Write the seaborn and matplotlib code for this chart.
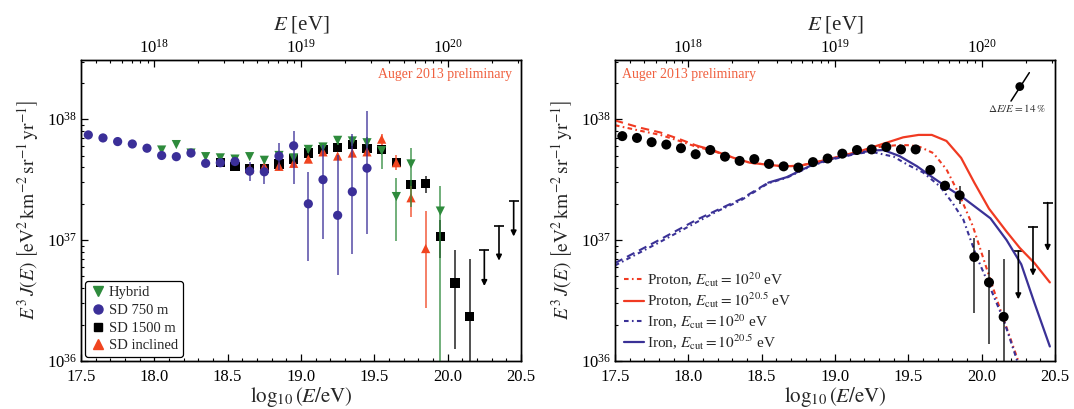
import numpy as np
import matplotlib
matplotlib.use("Agg")
import matplotlib.pyplot as plt
from matplotlib.ticker import MultipleLocator, FormatStrFormatter, LogLocator, NullFormatter
from matplotlib.lines import Line2D
import seaborn as sns

# ---------------- Left panel data: log10(E/eV) and log10(E^3 J) ----------------
hyb_x = [18.05, 18.15, 18.25, 18.35, 18.45, 18.55, 18.65, 18.75, 18.85, 18.95,
         19.05, 19.15, 19.25, 19.35, 19.45, 19.55, 19.65, 19.75, 19.95]
hyb_y = [37.745, 37.79, 37.72, 37.69, 37.68, 37.67, 37.69, 37.66, 37.70, 37.68,
         37.75, 37.77, 37.825, 37.82, 37.805, 37.74, 37.36, 37.63, 37.24]
hyb_lo = [37.735, 37.78, 37.71, 37.68, 37.67, 37.66, 37.675, 37.645, 37.68, 37.66,
          37.72, 37.74, 37.79, 37.78, 37.76, 37.59, 36.99, 37.27, 35.5]
hyb_hi = [37.755, 37.80, 37.73, 37.70, 37.69, 37.68, 37.705, 37.675, 37.72, 37.70,
          37.78, 37.80, 37.86, 37.86, 37.85, 37.76, 37.515, 37.76, 37.45]

sd750_x = [17.55, 17.65, 17.75, 17.85, 17.95, 18.05, 18.15, 18.25, 18.35, 18.45,
           18.55, 18.65, 18.75, 18.85, 18.95, 19.05, 19.15, 19.25, 19.35, 19.45]
sd750_y = [37.87, 37.845, 37.815, 37.795, 37.76, 37.70, 37.69, 37.72, 37.635, 37.64,
           37.65, 37.57, 37.565, 37.695, 37.78, 37.30, 37.50, 37.205, 37.40, 37.595]
sd750_lo = [37.865, 37.84, 37.81, 37.79, 37.755, 37.69, 37.68, 37.71, 37.615, 37.615,
            37.61, 37.49, 37.46, 37.58, 37.46, 36.83, 37.01, 36.71, 36.885, 37.05]
sd750_hi = [37.875, 37.85, 37.82, 37.80, 37.765, 37.71, 37.70, 37.73, 37.655, 37.665,
            37.69, 37.65, 37.62, 37.80, 37.90, 37.56, 37.79, 37.70, 37.875, 38.07]

sd1500_x = [18.45, 18.55, 18.65, 18.75, 18.85, 18.95, 19.05, 19.15, 19.25, 19.35,
            19.45, 19.55, 19.65, 19.75, 19.85, 19.95, 20.05, 20.15]
sd1500_y = [37.64, 37.61, 37.595, 37.595, 37.63, 37.67, 37.72, 37.75, 37.765, 37.79,
            37.755, 37.75, 37.64, 37.46, 37.47, 37.03, 36.645, 36.365]
sd1500_lo = [37.63, 37.60, 37.585, 37.585, 37.62, 37.66, 37.71, 37.74, 37.755, 37.775,
             37.74, 37.73, 37.61, 37.42, 37.39, 36.85, 36.10, 35.5]
sd1500_hi = [37.65, 37.62, 37.605, 37.605, 37.64, 37.68, 37.73, 37.76, 37.775, 37.805,
             37.77, 37.77, 37.67, 37.50, 37.53, 37.17, 36.92, 36.84]
sd1500_ul_x = [20.25, 20.35, 20.45]
sd1500_ul_top = [36.915, 37.115, 37.32]
sd1500_ul_tip = [36.62, 36.83, 37.03]

incl_x = [18.65, 18.75, 18.85, 18.95, 19.05, 19.15, 19.25, 19.35, 19.45, 19.55,
          19.65, 19.75, 19.85]
incl_y = [37.59, 37.61, 37.61, 37.635, 37.67, 37.73, 37.695, 37.72, 37.73, 37.835,
          37.64, 37.35, 36.93]
incl_lo = [37.575, 37.595, 37.595, 37.62, 37.65, 37.71, 37.675, 37.70, 37.70, 37.79,
           37.58, 37.19, 36.44]
incl_hi = [37.605, 37.625, 37.625, 37.65, 37.69, 37.75, 37.715, 37.74, 37.76, 37.88,
           37.70, 37.45, 37.24]

# ---------------- Right panel data ----------------
comb_x = [17.55, 17.65, 17.75, 17.85, 17.95, 18.05, 18.15, 18.25, 18.35, 18.45,
          18.55, 18.65, 18.75, 18.85, 18.95, 19.05, 19.15, 19.25, 19.35, 19.45,
          19.55, 19.65, 19.75, 19.85, 19.95, 20.05, 20.15]
comb_y = [37.86, 37.845, 37.81, 37.79, 37.76, 37.71, 37.745, 37.69, 37.655, 37.67,
          37.63, 37.61, 37.60, 37.645, 37.675, 37.715, 37.745, 37.75, 37.77, 37.75,
          37.75, 37.58, 37.45, 37.37, 36.86, 36.65, 36.365]
comb_lo = [37.855, 37.84, 37.805, 37.785, 37.755, 37.705, 37.74, 37.685, 37.65, 37.665,
           37.625, 37.605, 37.595, 37.64, 37.67, 37.71, 37.74, 37.74, 37.76, 37.735,
           37.73, 37.55, 37.41, 37.30, 36.40, 36.14, 35.5]
comb_hi = [37.865, 37.85, 37.815, 37.795, 37.765, 37.715, 37.75, 37.695, 37.66, 37.675,
           37.635, 37.615, 37.605, 37.65, 37.68, 37.72, 37.75, 37.76, 37.78, 37.765,
           37.77, 37.61, 37.49, 37.45, 37.02, 36.92, 36.84]
comb_ul_x = [20.25, 20.35, 20.45]
comb_ul_top = [36.91, 37.11, 37.31]
comb_ul_tip = [36.51, 36.705, 36.91]

p205_x = [17.5, 17.67, 17.81, 17.94, 18.06, 18.15, 18.31, 18.42, 18.53, 18.65, 18.76,
          18.875, 18.99, 19.17, 19.35, 19.465, 19.57, 19.66, 19.76, 19.86, 19.95,
          20.05, 20.17, 20.26, 20.36, 20.465]
p205_y = [37.99, 37.93, 37.89, 37.835, 37.78, 37.75, 37.68, 37.64, 37.625, 37.61, 37.615,
          37.645, 37.68, 37.735, 37.805, 37.85, 37.87, 37.87, 37.82, 37.68, 37.475,
          37.26, 37.07, 36.935, 36.81, 36.65]
p20_x = [17.5, 17.67, 17.81, 17.94, 18.06, 18.15, 18.31, 18.42, 18.53, 18.65, 18.76,
         18.875, 18.99, 19.17, 19.3, 19.42, 19.51, 19.58, 19.67, 19.76, 19.85, 19.94,
         20.03, 20.12, 20.215, 20.27]
p20_y = [37.95, 37.905, 37.87, 37.82, 37.77, 37.745, 37.68, 37.64, 37.625, 37.61, 37.615,
         37.645, 37.68, 37.73, 37.77, 37.785, 37.785, 37.77, 37.72, 37.585, 37.37, 37.115,
         36.78, 36.45, 36.12, 35.93]
fe205_x = [17.5, 17.8, 18.06, 18.2, 18.36, 18.545, 18.67, 18.85, 18.99, 19.15, 19.25,
           19.33, 19.44, 19.56, 19.67, 19.785, 19.88, 20.06, 20.17, 20.27, 20.36, 20.465]
fe205_y = [36.81, 37.0, 37.17, 37.25, 37.34, 37.475, 37.52, 37.625, 37.675, 37.72, 37.74,
           37.745, 37.695, 37.61, 37.515, 37.42, 37.345, 37.18, 37.00, 36.80, 36.48, 36.12]
fe20_x = [17.5, 17.8, 18.06, 18.2, 18.36, 18.545, 18.67, 18.85, 18.99, 19.15, 19.25,
          19.4, 19.5, 19.6, 19.715, 19.8, 19.875, 19.965, 20.055, 20.15, 20.24, 20.27]
fe20_y = [36.79, 36.98, 37.15, 37.24, 37.33, 37.47, 37.515, 37.62, 37.67, 37.715, 37.73,
          37.69, 37.62, 37.56, 37.445, 37.31, 37.17, 36.865, 36.615, 36.34, 36.01, 35.93]

# energy-scale uncertainty marker (log10 E, log10 E^3 J)
de_x = [20.20, 20.26, 20.325]
de_y = [38.15, 38.27, 38.385]

# ---------------- Style ----------------
sns.set_theme(style="ticks")
plt.rcParams['font.family'] = ['Liberation Serif', 'DejaVu Serif']
plt.rcParams['mathtext.fontset'] = 'stix'
plt.rcParams['axes.edgecolor'] = 'black'
plt.rcParams['axes.linewidth'] = 1.0

C_HYB = '#2e8b3c'
C_750 = '#3b2f98'
C_1500 = 'black'
C_INC = '#f0441f'
C_TXT = '#f0603f'
C_P = '#f03a22'
C_FE = '#3a3196'

fig = plt.figure(figsize=(10.74, 4.09), dpi=100, facecolor='white')
axL = fig.add_axes([0.0754, 0.1174, 0.4097, 0.736])
axR = fig.add_axes([0.5726, 0.1174, 0.4097, 0.736])

ylab = r'$E^3\,J(E)\ \left[\mathrm{eV}^2\,\mathrm{km}^{-2}\,\mathrm{sr}^{-1}\,\mathrm{yr}^{-1}\right]$'


def p(v):
    return 10.0 ** np.asarray(v, dtype=float)


def setup(ax):
    ax.set_facecolor('white')
    ax.set_yscale('log')
    ax.set_xlim(17.5, 20.5)
    ax.set_ylim(1e36, 10 ** 38.49)
    ax.xaxis.set_major_locator(MultipleLocator(0.5))
    ax.xaxis.set_minor_locator(MultipleLocator(0.1))
    ax.xaxis.set_major_formatter(FormatStrFormatter('%.1f'))
    ax.yaxis.set_major_locator(LogLocator(base=10, numticks=10))
    ax.yaxis.set_minor_locator(LogLocator(base=10, subs=np.arange(2, 10), numticks=20))
    ax.yaxis.set_minor_formatter(NullFormatter())
    ax.tick_params(which='both', direction='in', top=False, right=False,
                   labelsize=12, colors='black')
    ax.tick_params(axis='x', which='major', pad=6)
    ax.tick_params(axis='y', which='major', pad=3)
    ax.tick_params(which='major', length=5, width=0.9)
    ax.tick_params(which='minor', length=2.5, width=0.8)
    ax.set_xlabel(r'$\log_{10}(E/\mathrm{eV})$', fontsize=15, labelpad=0)
    ax.set_ylabel(ylab, fontsize=14, labelpad=4)
    for s in ax.spines.values():
        s.set_visible(True)
        s.set_color('black')
    tw = ax.twiny()
    tw.set_xscale('log')
    tw.set_xlim(10 ** 17.5, 10 ** 20.5)
    tw.tick_params(which='both', direction='in', labelsize=12, colors='black')
    tw.tick_params(which='major', length=5, width=0.9, pad=2)
    tw.tick_params(which='minor', length=2.5, width=0.8)
    tw.set_xlabel(r'$E$ [eV]', fontsize=15, labelpad=7)
    return tw


def upper_limits(ax, xs, tops, tips, color):
    for x, t, b in zip(xs, tops, tips):
        ax.annotate('', xy=(x, 10 ** b), xytext=(x, 10 ** t),
                    arrowprops=dict(arrowstyle='-|>', color=color, lw=1.2,
                                    mutation_scale=8, shrinkA=0, shrinkB=0))
    ax.plot(xs, p(tops), linestyle='none', marker='_', ms=7, mew=1.2, color=color)


# ---------------- Left panel ----------------
setup(axL)
series = [
    (sd1500_x, sd1500_y, sd1500_lo, sd1500_hi, 's', C_1500, 44),
    (incl_x, incl_y, incl_lo, incl_hi, '^', C_INC, 44),
    (hyb_x, hyb_y, hyb_lo, hyb_hi, 'v', C_HYB, 44),
    (sd750_x, sd750_y, sd750_lo, sd750_hi, 'o', C_750, 44),
]
for i, (xs, ys, lo, hi, mk, col, sz) in enumerate(series):
    axL.vlines(xs, p(lo), p(hi), color=col, lw=1.2, alpha=0.8, zorder=2 + i)
    sns.scatterplot(x=xs, y=p(ys), marker=mk, color=col, s=sz, edgecolor='none',
                    ax=axL, zorder=3 + i, legend=False)
upper_limits(axL, sd1500_ul_x, sd1500_ul_top, sd1500_ul_tip, 'black')

axL.text(20.44, 10 ** 38.37, 'Auger 2013 preliminary', color=C_TXT, fontsize=10,
         ha='right', va='center')

hL = [Line2D([], [], ls='none', marker='v', color=C_HYB, ms=6.5, label='Hybrid'),
      Line2D([], [], ls='none', marker='o', color=C_750, ms=6.5, label='SD 750 m'),
      Line2D([], [], ls='none', marker='s', color=C_1500, ms=6, label='SD 1500 m'),
      Line2D([], [], ls='none', marker='^', color=C_INC, ms=6.5, label='SD inclined')]
legL = axL.legend(handles=hL, loc='lower left', fontsize=10.5, frameon=True, fancybox=True,
                  edgecolor='black', framealpha=1, handletextpad=0.2, labelspacing=0.3,
                  borderaxespad=0.25, borderpad=0.35, handlelength=1.1)
legL.get_frame().set_linewidth(0.9)

# ---------------- Right panel ----------------
setup(axR)
dashdot = (0, (2.2, 1.6, 0.8, 1.6))

# low-energy (extrapolated) parts dashed, rest solid
sns.lineplot(x=[v for v in p205_x if v <= 18.06], y=p([y for v, y in zip(p205_x, p205_y) if v <= 18.06]),
             color=C_P, lw=1.5, linestyle=(0, (4, 2.5)), ax=axR, errorbar=None, zorder=3)
sns.lineplot(x=[v for v in p205_x if v >= 18.06], y=p([y for v, y in zip(p205_x, p205_y) if v >= 18.06]),
             color=C_P, lw=1.6, ax=axR, errorbar=None, zorder=3)
sns.lineplot(x=[v for v in fe205_x if v <= 18.545], y=p([y for v, y in zip(fe205_x, fe205_y) if v <= 18.545]),
             color=C_FE, lw=1.5, linestyle=(0, (4, 2.5)), ax=axR, errorbar=None, zorder=3)
sns.lineplot(x=[v for v in fe205_x if v >= 18.545], y=p([y for v, y in zip(fe205_x, fe205_y) if v >= 18.545]),
             color=C_FE, lw=1.6, ax=axR, errorbar=None, zorder=3)
sns.lineplot(x=p20_x, y=p(p20_y), color=C_P, lw=1.5, linestyle=dashdot, ax=axR,
             errorbar=None, zorder=3)
sns.lineplot(x=fe20_x, y=p(fe20_y), color=C_FE, lw=1.5, linestyle=dashdot, ax=axR,
             errorbar=None, zorder=3)

axR.vlines(comb_x, p(comb_lo), p(comb_hi), color='black', lw=1.2, alpha=0.8, zorder=4)
sns.scatterplot(x=comb_x, y=p(comb_y), marker='o', color='black', s=52, edgecolor='none',
                ax=axR, zorder=5, legend=False)
upper_limits(axR, comb_ul_x, comb_ul_top, comb_ul_tip, 'black')

# energy scale uncertainty
axR.plot([de_x[0], de_x[2]], p([de_y[0], de_y[2]]), color='black', lw=1.1)
sns.scatterplot(x=[de_x[1]], y=p([de_y[1]]), color='black', s=40, edgecolor='none',
                ax=axR, legend=False, zorder=5)
axR.text(20.24, 10 ** 38.09, r'$\Delta E/E = 14\,\%$', fontsize=8, ha='center',
         va='center', color='#333333')

axR.text(17.55, 10 ** 38.37, 'Auger 2013 preliminary', color=C_TXT, fontsize=10,
         ha='left', va='center')

hR = [Line2D([], [], color=C_P, lw=1.5, linestyle=dashdot,
             label=r'Proton, $E_{\mathrm{cut}} = 10^{20}$ eV'),
      Line2D([], [], color=C_P, lw=1.6, label=r'Proton, $E_{\mathrm{cut}} = 10^{20.5}$ eV'),
      Line2D([], [], color=C_FE, lw=1.5, linestyle=dashdot,
             label=r'Iron, $E_{\mathrm{cut}} = 10^{20}$ eV'),
      Line2D([], [], color=C_FE, lw=1.6, label=r'Iron, $E_{\mathrm{cut}} = 10^{20.5}$ eV')]
axR.legend(handles=hR, loc='lower left', fontsize=11, frameon=False, handlelength=1.3,
           handletextpad=0.2, labelspacing=0.12, borderaxespad=0.2)

fig.savefig('out.png', dpi=100, facecolor='white')
